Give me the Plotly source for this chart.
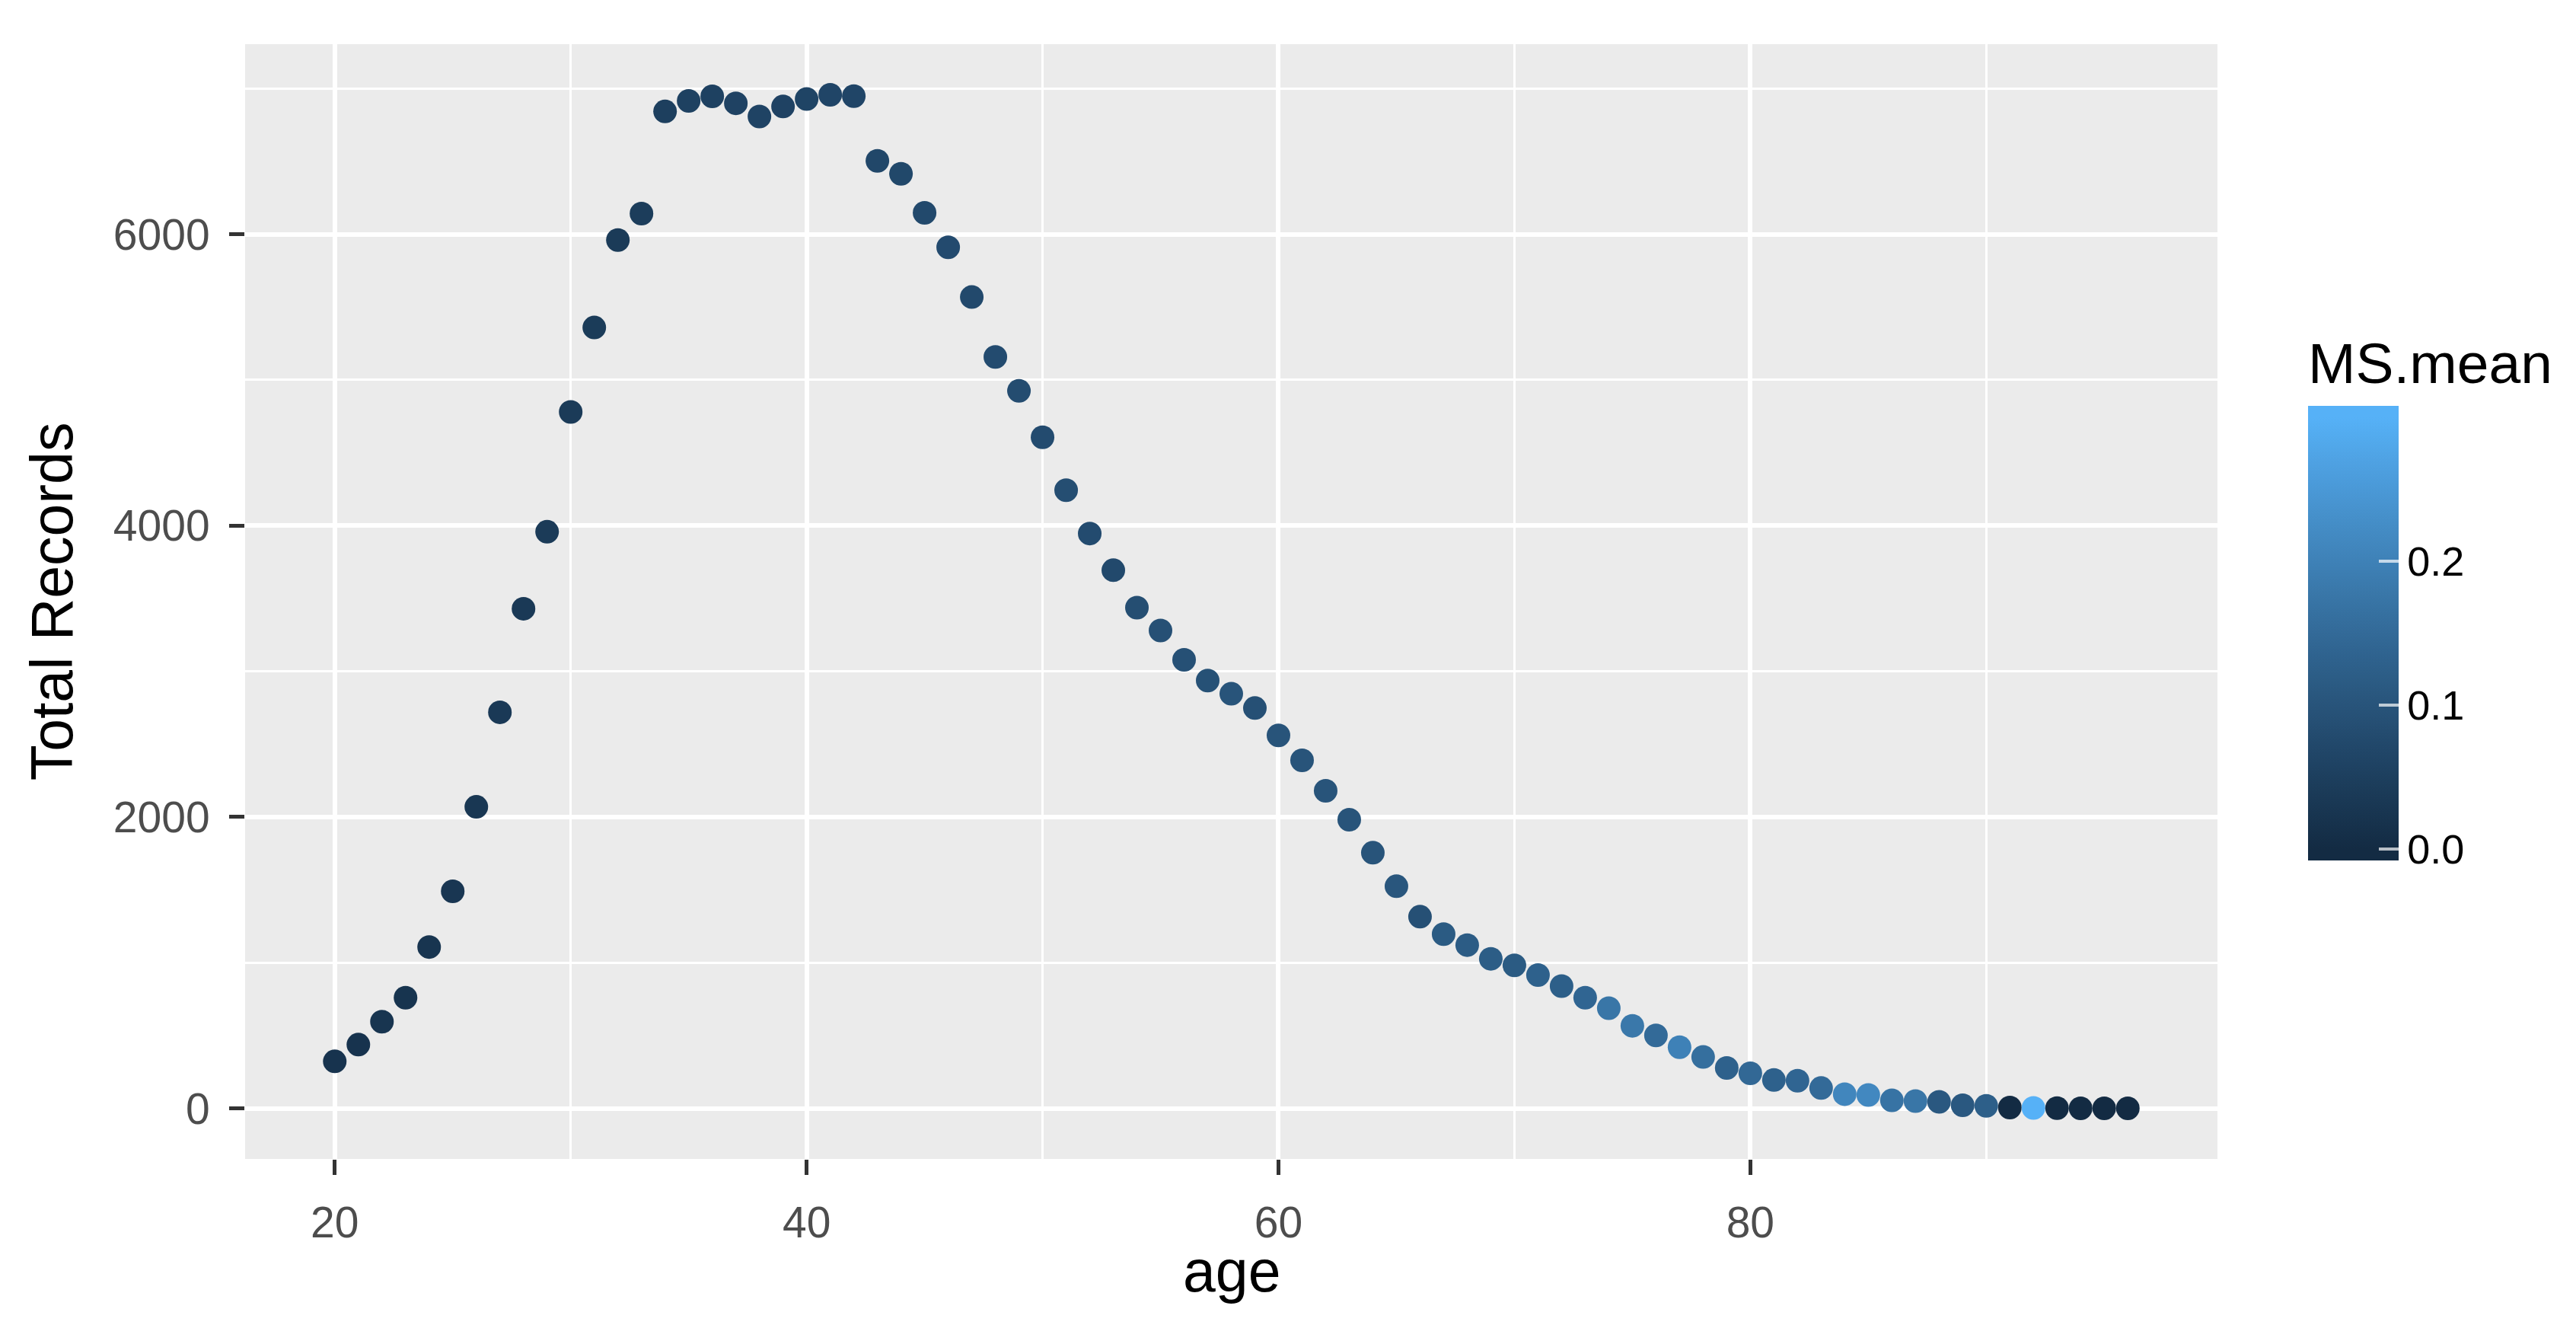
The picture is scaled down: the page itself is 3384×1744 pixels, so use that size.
import plotly.graph_objects as go
import numpy as np

# ---- data ----
ages = list(range(20, 97))
total_records = [
    323, 438, 595, 760, 1108, 1490, 2070, 2719, 3430, 3958,   # 20-29
    4780, 5360, 5960, 6142, 6843, 6915, 6947, 6899, 6808, 6877,  # 30-39
    6928, 6957, 6948, 6504, 6415, 6147, 5911, 5569, 5158, 4925,  # 40-49
    4607, 4243, 3946, 3694, 3437, 3280, 3079, 2937, 2846, 2748,  # 50-59
    2560, 2389, 2180, 1982, 1755, 1525, 1316, 1196, 1121, 1027,  # 60-69
    982, 915, 840, 760, 688, 567, 501, 420, 353, 278,            # 70-79
    241, 195, 190, 140, 98, 92, 55, 50, 45, 22,                  # 80-89
    18, 6, 3, 2, 1, 1, 1,                                        # 90-96
]
ms_mean = [
    0.020, 0.020, 0.025, 0.022, 0.025, 0.028, 0.030, 0.035, 0.035, 0.040,
    0.040, 0.042, 0.040, 0.045, 0.050, 0.055, 0.055, 0.058, 0.060, 0.058,
    0.062, 0.065, 0.065, 0.070, 0.072, 0.075, 0.078, 0.075, 0.080, 0.082,
    0.080, 0.085, 0.080, 0.075, 0.085, 0.090, 0.090, 0.092, 0.100, 0.090,
    0.100, 0.100, 0.100, 0.100, 0.100, 0.105, 0.090, 0.115, 0.118, 0.120,
    0.115, 0.130, 0.125, 0.140, 0.175, 0.180, 0.150, 0.200, 0.160, 0.130,
    0.145, 0.130, 0.140, 0.150, 0.210, 0.215, 0.170, 0.175, 0.110, 0.110,
    0.125, 0.000, 0.300, 0.000, 0.000, 0.000, 0.000,
]
x_ticks = [20, 40, 60, 80]
y_ticks = [0, 2000, 4000, 6000]
cbar_ticks = [0.0, 0.1, 0.2]
cbar_labels = ["0.0", "0.1", "0.2"]
x_title = "age"
y_title = "Total Records"
legend_title = "MS.mean"

# ---- ggplot-like Lab gradient (#132B43 -> #56B1F7) ----
LOW, HIGH = "#132B43", "#56B1F7"

def hex2rgb(h):
    h = h.lstrip("#")
    return [int(h[i:i + 2], 16) / 255 for i in (0, 2, 4)]

def srgb2lin(c):
    return c / 12.92 if c <= 0.04045 else ((c + 0.055) / 1.055) ** 2.4

def lin2srgb(c):
    c = max(0.0, min(1.0, c))
    return 12.92 * c if c <= 0.0031308 else 1.055 * c ** (1 / 2.4) - 0.055

WP = (0.95047, 1.0, 1.08883)

def rgb2lab(rgb):
    r, g, b = [srgb2lin(c) for c in rgb]
    X = 0.4124 * r + 0.3576 * g + 0.1805 * b
    Y = 0.2126 * r + 0.7152 * g + 0.0722 * b
    Z = 0.0193 * r + 0.1192 * g + 0.9505 * b
    def f(t):
        return t ** (1 / 3) if t > 216 / 24389 else (24389 / 27 * t + 16) / 116
    fx, fy, fz = f(X / WP[0]), f(Y / WP[1]), f(Z / WP[2])
    return (116 * fy - 16, 500 * (fx - fy), 200 * (fy - fz))

def lab2rgb(lab):
    L, a, b = lab
    fy = (L + 16) / 116
    fx = fy + a / 500
    fz = fy - b / 200
    def finv(t):
        return t ** 3 if t ** 3 > 216 / 24389 else (116 * t - 16) * 27 / 24389
    X, Y, Z = finv(fx) * WP[0], finv(fy) * WP[1], finv(fz) * WP[2]
    r = 3.2406 * X - 1.5372 * Y - 0.4986 * Z
    g = -0.9689 * X + 1.8758 * Y + 0.0415 * Z
    bb = 0.0557 * X - 0.2040 * Y + 1.0570 * Z
    return [round(lin2srgb(c) * 255) for c in (r, g, bb)]

lab_lo, lab_hi = rgb2lab(hex2rgb(LOW)), rgb2lab(hex2rgb(HIGH))

def grad(t):
    lab = [lab_lo[i] + (lab_hi[i] - lab_lo[i]) * t for i in range(3)]
    r, g, b = lab2rgb(lab)
    return f"rgb({r},{g},{b})"

vmin, vmax = 0.0, 0.3
nbin = 20
half = (vmax - vmin) / (nbin - 1) / 2
cmin, cmax = vmin - half, vmax + half
span = cmax - cmin
colorscale = [[0.0, grad(0)]]
for t in np.linspace(0, 1, 21):
    v = vmin + t * (vmax - vmin)
    colorscale.append([(v - cmin) / span, grad(t)])
colorscale.append([1.0, grad(1)])

# ---- geometry ----
W, H = 3384, 1744
L, R, T, B = 314, 2905, 50, 1514
FONT = "Liberation Sans, Arial, sans-serif"
TITLE_SIZE = 77
TICK_SIZE = 57

xr = max(ages) - min(ages)
yr = max(total_records) - min(total_records)
x_range = [min(ages) - 0.05 * xr, max(ages) + 0.05 * xr]
y_range = [min(total_records) - 0.05 * yr, max(total_records) + 0.05 * yr]

CB_TITLE_H = 92
cb_len = 594 + CB_TITLE_H
cb_center = (528 - CB_TITLE_H + 1122) / 2

fig = go.Figure(go.Scatter(
    x=ages, y=total_records, mode="markers",
    marker=dict(
        size=31, color=ms_mean, colorscale=colorscale, cmin=cmin, cmax=cmax,
        line=dict(width=0),
        colorbar=dict(
            title=dict(text=legend_title, side="top", font=dict(size=75, color="black", family=FONT)),
            x=(3024 - L) / (R - L), xanchor="left", xpad=0,
            y=(B - cb_center) / (B - T), yanchor="middle", ypad=0,
            lenmode="pixels", len=cb_len, thickness=119,
            outlinewidth=0,
            tickvals=cbar_ticks, ticktext=cbar_labels,
            ticks="inside", ticklen=26, tickwidth=4, tickcolor="rgba(255,255,255,0.7)",
            tickfont=dict(size=54, color="black", family=FONT),
        ),
    ),
    showlegend=False,
))

grid = dict(showgrid=True, gridcolor="white", gridwidth=6, zeroline=False,
            ticks="outside", ticklen=20, tickwidth=5, tickcolor="#333333",
            tickfont=dict(size=TICK_SIZE, color="#4D4D4D", family=FONT),
            showline=False)

fig.update_xaxes(range=x_range, tickvals=x_ticks, ticklabelstandoff=14,
                 minor=dict(tickvals=[30, 50, 70, 90], showgrid=True, gridcolor="white", gridwidth=3, ticks=""),
                 **grid)
fig.update_yaxes(range=y_range, tickvals=y_ticks, ticklabelstandoff=14,
                 minor=dict(tickvals=[1000, 3000, 5000, 7000], showgrid=True, gridcolor="white", gridwidth=3, ticks=""),
                 title=dict(text=y_title, font=dict(size=TITLE_SIZE, color="black", family=FONT), standoff=27),
                 **grid)

# x-axis title placed as an annotation (closer to the tick labels than plotly's minimum standoff)
fig.add_annotation(
    text=x_title, xref="paper", yref="paper", x=0.5, y=(B - 1661) / (B - T),
    xanchor="center", yanchor="middle", showarrow=False,
    font=dict(size=TITLE_SIZE, color="black", family=FONT),
)

fig.update_layout(
    width=W, height=H,
    margin=dict(l=L, r=W - R, t=T, b=H - B, autoexpand=False),
    plot_bgcolor="#EBEBEB", paper_bgcolor="white",
    font=dict(family=FONT),
)

fig.write_html("out.html")
